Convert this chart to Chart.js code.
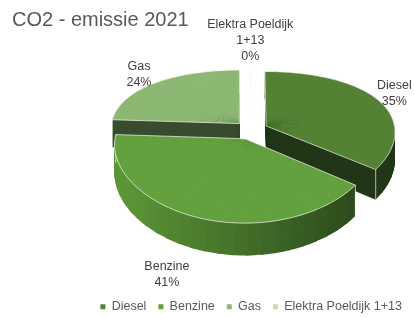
<!DOCTYPE html>
<html>
<head>
<meta charset="utf-8">
<script src="https://cdn.jsdelivr.net/npm/chart.js@4.4.1/dist/chart.umd.min.js"></script>
<style>
    html, body { margin: 0; padding: 0; background: #fff; }
    #wrap { width: 414px; height: 318px; }
</style>
</head>
<body>
<div id="wrap"><canvas id="co2-chart"></canvas></div>
<script>
// Chart data
const categories = ['Diesel', 'Benzine', 'Gas', 'Elektra Poeldijk 1+13'];
const emissionShare = [35, 41, 24, 0.1];

// Slice styling
const topColors = ['#548235', '#63a03e', '#8cb873', '#c6deb5'];
const sideColors = [
    ['#2c481c', '#223719'],
    ['#5d9638', '#2b471c'],
    ['#3a4c30', '#3a4c30'],
    ['#9fb98f', '#9fb98f']
];
const labelDistance = [1.31, 1.72, 1.37, 2.15];

const FONT = '"Liberation Sans", Arial, sans-serif';
const STEP = 6 * Math.PI / 180;   // sub-wedge size used for the perspective
const EPS = 0.01;                 // overlap between sub-wedges to hide seams

function mix(c1, c2, t) {
    const p = c => [1, 3, 5].map(k => parseInt(c.substr(k, 2), 16));
    const a = p(c1), b = p(c2);
    return 'rgb(' + a.map((v, i) => Math.round(v + (b[i] - v) * t)).join(',') + ')';
}

// 3D pie: every slice is drawn by the arc element itself, in small pieces,
// each piece with its own affine transform that follows a perspective view
const pie3d = {
    id: 'pie3d',
    beforeDatasetsDraw(chart, args, opts) {
        const ctx = chart.ctx;
        const arcs = chart.getDatasetMeta(0).data;
        const r = arcs[0].outerRadius;

        // ground plane (u right, v towards viewer, lam = share of thickness) -> screen
        const proj = (u, v, lam) => [
            opts.cx + u * (1 + opts.px * v),
            opts.cy + opts.ya * v + opts.yb * v * v + lam * (opts.t0 + opts.t1 * v)
        ];
        const explodeOf = a => {
            const m = (a.startAngle + a.endAngle) / 2, o = a.options.offset || 0;
            return [Math.cos(m) * o, Math.sin(m) * o];
        };
        const piecesOf = a => {
            const span = a.endAngle - a.startAngle;
            const n = Math.max(1, Math.ceil(span / STEP));
            const list = [];
            for (let j = 0; j < n; j++) {
                list.push({
                    th1: a.startAngle + span * j / n,
                    th2: a.startAngle + span * (j + 1) / n,
                    e1: j > 0 ? EPS : 0,
                    e2: j < n - 1 ? EPS : 0
                });
            }
            return list;
        };
        const drawPiece = (a, p, lam, color) => {
            const [ox, oy] = explodeOf(a);
            const u1x = r * Math.cos(p.th1), u1y = r * Math.sin(p.th1);
            const u2x = r * Math.cos(p.th2), u2y = r * Math.sin(p.th2);
            const S0 = proj(ox, oy, lam);
            const S1 = proj(ox + u1x, oy + u1y, lam);
            const S2 = proj(ox + u2x, oy + u2y, lam);
            const w1x = S1[0] - S0[0], w1y = S1[1] - S0[1];
            const w2x = S2[0] - S0[0], w2y = S2[1] - S0[1];
            const det = u1x * u2y - u2x * u1y;
            const m00 = (w1x * u2y - w2x * u1y) / det, m01 = (w2x * u1x - w1x * u2x) / det;
            const m10 = (w1y * u2y - w2y * u1y) / det, m11 = (w2y * u1x - w1y * u2x) / det;
            const e = S0[0] - (m00 * a.x + m01 * a.y);
            const f = S0[1] - (m10 * a.x + m11 * a.y);
            const piece = Object.create(a);
            piece.startAngle = p.th1 - p.e1;
            piece.endAngle = p.th2 + p.e2;
            piece.circumference = piece.endAngle - piece.startAngle;
            piece.options = Object.assign({}, a.options, {backgroundColor: color, borderWidth: 0, offset: 0});
            ctx.save();
            ctx.transform(m00, m10, m01, m11, e, f);
            a.draw.call(piece, ctx);
            ctx.restore();
        };
        const edgePoint = (a, th, lam) => {
            const [ox, oy] = explodeOf(a);
            return proj(ox + r * Math.cos(th), oy + r * Math.sin(th), lam);
        };

        // back slices first, front slice last
        const backness = a => {
            let d = (a.startAngle + a.endAngle) / 2 - Math.PI / 2;
            return Math.abs(Math.atan2(Math.sin(d), Math.cos(d)));
        };
        const order = arcs.map((a, i) => i).sort((i, j) => backness(arcs[j]) - backness(arcs[i]));

        ctx.save();
        ctx.strokeStyle = 'rgba(255,255,255,0.65)';
        ctx.lineWidth = 1;

        // side walls
        order.forEach(i => {
            const a = arcs[i];
            if (a.endAngle - a.startAngle < 0.02) return;
            const pieces = piecesOf(a);
            pieces.forEach(p => {
                const x = edgePoint(a, (p.th1 + p.th2) / 2, 0)[0];
                const t = Math.min(1, Math.max(0, (x - (opts.cx - r)) / (1.9 * r)));
                p.color = mix(sideColors[i][0], sideColors[i][1], t);
            });
            for (let k = opts.layers; k >= 1; k--) {
                pieces.forEach(p => drawPiece(a, p, k / opts.layers, p.color));
            }
            [a.startAngle, a.endAngle].forEach(th => {
                const p0 = edgePoint(a, th, 0), p1 = edgePoint(a, th, 1);
                ctx.beginPath();
                ctx.moveTo(p0[0], p0[1]);
                ctx.lineTo(p1[0], p1[1]);
                ctx.stroke();
            });
        });

        // top faces with a light rim
        order.forEach(i => {
            const a = arcs[i];
            piecesOf(a).forEach(p => drawPiece(a, p, 0, a.options.backgroundColor));
            const [ox, oy] = explodeOf(a);
            const c = proj(ox, oy, 0);
            ctx.beginPath();
            ctx.moveTo(c[0], c[1]);
            const n = Math.max(1, Math.ceil((a.endAngle - a.startAngle) / 0.03));
            for (let j = 0; j <= n; j++) {
                const pt = edgePoint(a, a.startAngle + (a.endAngle - a.startAngle) * j / n, 0);
                ctx.lineTo(pt[0], pt[1]);
            }
            ctx.closePath();
            ctx.stroke();
        });
        ctx.restore();
        return false;
    },
    afterDraw(chart, args, opts) {
        const ctx = chart.ctx;
        const arcs = chart.getDatasetMeta(0).data;
        const values = chart.data.datasets[0].data;
        const total = values.reduce((s, v) => s + v, 0);

        ctx.save();
        ctx.font = '12.5px ' + FONT;
        ctx.fillStyle = '#404040';
        ctx.textAlign = 'center';
        ctx.textBaseline = 'middle';
        arcs.forEach((a, i) => {
            const mid = (a.startAngle + a.endAngle) / 2;
            const d = opts.labelDistance[i] * a.outerRadius;
            const u = Math.cos(mid) * d, v = Math.sin(mid) * d;
            const x = opts.cx + u * (1 + opts.px * v);
            const y = opts.cy + opts.ya * v + opts.yb * v * v;
            const lines = wrapText(ctx, chart.data.labels[i], 100);
            lines.push(Math.round(values[i] / total * 100) + '%');
            lines.forEach((ln, k) => {
                ctx.fillText(ln, x, y + (k - (lines.length - 1) / 2) * 16);
            });
        });
        ctx.restore();
    }
};

// Simple word wrap for the data labels
function wrapText(ctx, text, maxWidth) {
    const words = text.split(' ');
    const lines = [];
    let line = '';
    words.forEach(w => {
        const test = line ? line + ' ' + w : w;
        if (line && ctx.measureText(test).width > maxWidth) {
            lines.push(line);
            line = w;
        } else {
            line = test;
        }
    });
    lines.push(line);
    return lines;
}

const ctx = document.getElementById('co2-chart').getContext('2d');
new Chart(ctx, {
    type: 'pie',
    data: {
        labels: categories,
        datasets: [{
            data: emissionShare,
            backgroundColor: topColors,
            borderColor: '#ffffff',
            borderWidth: 0,
            offset: 17,
            hoverOffset: 0,
            clip: false
        }]
    },
    options: {
        responsive: true,
        maintainAspectRatio: false,
        animation: false,
        radius: 129,
        layout: { padding: { left: 12, right: 0, bottom: -5 } },
        events: [],
        plugins: {
            title: {
                display: true,
                text: 'CO2 - emissie 2021',
                align: 'start',
                color: '#595959',
                font: { family: FONT, size: 20, weight: 'normal' },
                padding: { top: 8, bottom: 4 }
            },
            legend: {
                position: 'bottom',
                align: 'end',
                labels: {
                    color: '#595959',
                    font: { family: FONT, size: 12.5 },
                    boxWidth: 5,
                    boxHeight: 5,
                    padding: 12,
                    generateLabels(chart) {
                        return Chart.overrides.pie.plugins.legend.labels.generateLabels(chart)
                            .map(item => Object.assign(item, { lineWidth: 0 }));
                    }
                }
            },
            tooltip: { enabled: false },
            pie3d: {
                cx: 251, cy: 130,
                ya: 0.532, yb: 0.00076, px: 0.00062,
                t0: 28, t1: 0.03, layers: 34,
                labelDistance: labelDistance
            }
        }
    },
    plugins: [pie3d]
});
</script>
</body>
</html>
